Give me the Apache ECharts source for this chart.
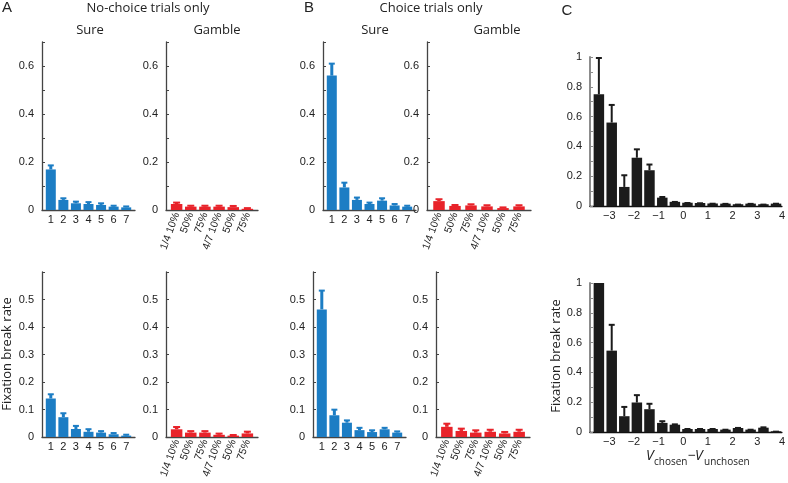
<!DOCTYPE html>
<html>
<head>
<meta charset="utf-8">
<script src="https://cdn.jsdelivr.net/npm/echarts@6/dist/echarts.min.js"></script>
<style>
html, body { margin: 0; padding: 0; background: #fff; }
#chart { width: 788px; height: 483px; }
</style>
</head>
<body>
<div id="chart"></div>
<script>
// x positions / labels
const sureX = [1, 2, 3, 4, 5, 6, 7]
const gambleX = [1, 2, 3, 4, 5, 6]
const gambleLabels = ['1/4 10%', '50%', '75%', '4/7 10%', '50%', '75%']
const cBins = [-3.42, -2.9, -2.39, -1.88, -1.37, -0.85, -0.34, 0.17, 0.68, 1.19, 1.71, 2.22, 2.73, 3.25, 3.76]
const cTicks = [-3, -2, -1, 0, 1, 2, 3, 4]

// A: no-choice trials, top row (mean, upper error)
const aTopSure = [0.169, 0.042, 0.028, 0.025, 0.021, 0.014, 0.011]
const aTopSureErr = [0.19, 0.053, 0.039, 0.037, 0.032, 0.022, 0.019]
const aTopGamble = [0.025, 0.014, 0.014, 0.014, 0.012, 0.005]
const aTopGambleErr = [0.035, 0.022, 0.022, 0.022, 0.021, 0.012]
// A: bottom row
const aBotSure = [0.14, 0.072, 0.029, 0.019, 0.016, 0.01, 0.005]
const aBotSureErr = [0.159, 0.09, 0.044, 0.032, 0.025, 0.018, 0.012]
const aBotGamble = [0.028, 0.016, 0.016, 0.008, 0.005, 0.013]
const aBotGambleErr = [0.04, 0.025, 0.025, 0.016, 0.011, 0.023]

// B: choice trials, top row
const bTopSure = [0.56, 0.094, 0.042, 0.025, 0.039, 0.019, 0.014]
const bTopSureErr = [0.614, 0.118, 0.056, 0.035, 0.053, 0.029, 0.022]
const bTopGamble = [0.037, 0.017, 0.019, 0.015, 0.008, 0.015]
const bTopGambleErr = [0.049, 0.025, 0.028, 0.024, 0.015, 0.024]
// B: bottom row
const bBotSure = [0.464, 0.079, 0.052, 0.025, 0.018, 0.028, 0.016]
const bBotSureErr = [0.536, 0.103, 0.064, 0.037, 0.028, 0.037, 0.024]
const bBotGamble = [0.037, 0.022, 0.016, 0.019, 0.013, 0.019]
const bBotGambleErr = [0.052, 0.034, 0.028, 0.03, 0.022, 0.03]

// C: by value difference
const cTop = [0.75, 0.56, 0.128, 0.324, 0.24, 0.056, 0.028, 0.022, 0.02, 0.017, 0.016, 0.012, 0.016, 0.012, 0.016]
const cTopErr = [1.0, 0.685, 0.213, 0.387, 0.285, 0.067, 0.034, 0.027, 0.025, 0.022, 0.021, 0.016, 0.021, 0.016, 0.022]
const cBot = [1.0, 0.546, 0.106, 0.198, 0.153, 0.061, 0.049, 0.02, 0.02, 0.02, 0.016, 0.027, 0.016, 0.029, 0.005]
const cBotErr = [1.0, 0.726, 0.175, 0.254, 0.196, 0.079, 0.058, 0.027, 0.027, 0.027, 0.022, 0.034, 0.022, 0.038, 0.009]

const BLUE = '#1c7dc4'
const RED = '#e8232a'
const BLACK = '#1b1b1b'
const LABEL_FONT = 'Liberation Sans'
const TITLE_FONT = 'Open Sans'

const grids = []
const xAxes = []
const yAxes = []
const series = []

// error bar: stem from bar top to error, plus a cap
const errRender = (color, stemW, capW) => (params, api) => {
  const x = api.value(0)
  const p0 = api.coord([x, api.value(1)])
  const p1 = api.coord([x, api.value(2)])
  return {
    type: 'group',
    children: [
      { type: 'line', shape: { x1: p0[0], y1: p0[1], x2: p1[0], y2: p1[1] + 1 }, style: { stroke: color, lineWidth: stemW } },
      { type: 'line', shape: { x1: p1[0] - capW / 2, y1: p1[1] + 1, x2: p1[0] + capW / 2, y2: p1[1] + 1 }, style: { stroke: color, lineWidth: 2 } }
    ]
  }
}

const addPanel = (p) => {
  const i = grids.length
  grids.push({ left: p.left, top: p.top, width: p.width, height: p.height })
  xAxes.push({
    gridIndex: i,
    type: 'value',
    min: p.xMin,
    max: p.xMax,
    splitLine: { show: false },
    axisTick: { show: false },
    axisLine: { onZero: false, lineStyle: { color: p.xLineColor || '#444', width: 1.3 } },
    axisLabel: {
      customValues: p.xLabelValues,
      formatter: p.xFormatter,
      rotate: p.rotate || 0,
      margin: p.rotate ? 3 : 4,
      fontFamily: LABEL_FONT,
      fontSize: p.rotate ? 10.5 : 11,
      color: '#222'
    }
  })
  yAxes.push({
    gridIndex: i,
    type: 'value',
    min: 0,
    max: p.yMax,
    interval: 0.1,
    splitLine: { show: false },
    axisTick: { inside: true, length: 3, lineStyle: { color: p.yLineColor || '#444' } },
    axisLine: { show: true, onZero: false, lineStyle: { color: p.yLineColor || '#444', width: p.yLineWidth || 1.3 } },
    axisLabel: {
      customValues: p.yLabelValues,
      formatter: (v) => String(Math.round(v * 10) / 10),
      margin: 8,
      fontFamily: LABEL_FONT,
      fontSize: 11,
      color: '#222'
    }
  })
  series.push({
    type: 'bar',
    xAxisIndex: i,
    yAxisIndex: i,
    barWidth: p.barWidth,
    itemStyle: { color: p.color },
    data: p.x.map((v, k) => [v, p.vals[k]]),
    silent: true
  })
  series.push({
    type: 'custom',
    xAxisIndex: i,
    yAxisIndex: i,
    renderItem: errRender(p.color, p.stemW, p.capW),
    data: p.x.map((v, k) => [v, p.vals[k], p.errs[k]]),
    silent: true,
    z: 3
  })
}

const topLabels = [0, 0.2, 0.4, 0.6]
const botLabels = [0, 0.1, 0.2, 0.3, 0.4, 0.5]
const sureCfg = { x: sureX, xMin: 0.3, xMax: 7.7, xLabelValues: sureX, xFormatter: (v) => String(v), color: BLUE, barWidth: 10, stemW: 3, capW: 6 }
const gambleCfg = { x: gambleX, xMin: 0.25, xMax: 6.75, xLabelValues: gambleX, xFormatter: (v) => gambleLabels[v - 1], rotate: 70, color: RED, barWidth: 11.5, stemW: 3.5, capW: 7 }
const cCfg = {
  x: cBins, xMin: -3.78, xMax: 4, xLabelValues: cTicks,
  xFormatter: (v) => (v < 0 ? '\u2212' + Math.abs(v) : String(v)),
  color: BLACK, barWidth: 10.5, stemW: 2, capW: 6,
  yMax: 1, yLabelValues: [0, 0.2, 0.4, 0.6, 0.8, 1], yLineColor: '#8c8c8c', yLineWidth: 2, xLineColor: '#111'
}

// top row
addPanel({ ...sureCfg, left: 42, top: 42, width: 93, height: 168, yMax: 0.7, yLabelValues: topLabels, vals: aTopSure, errs: aTopSureErr })
addPanel({ ...gambleCfg, left: 166, top: 42, width: 92, height: 168, yMax: 0.7, yLabelValues: topLabels, vals: aTopGamble, errs: aTopGambleErr })
addPanel({ ...sureCfg, left: 323, top: 42, width: 93, height: 168, yMax: 0.7, yLabelValues: topLabels, vals: bTopSure, errs: bTopSureErr })
addPanel({ ...gambleCfg, left: 427, top: 42, width: 104, height: 168, yMax: 0.7, yLabelValues: topLabels, vals: bTopGamble, errs: bTopGambleErr })
addPanel({ ...cCfg, left: 590, top: 57, width: 193, height: 149, vals: cTop, errs: cTopErr })

// bottom row
addPanel({ ...sureCfg, left: 42, top: 272, width: 93, height: 165, yMax: 0.6, yLabelValues: botLabels, vals: aBotSure, errs: aBotSureErr })
addPanel({ ...gambleCfg, left: 166, top: 272, width: 92, height: 165, yMax: 0.6, yLabelValues: botLabels, vals: aBotGamble, errs: aBotGambleErr })
addPanel({ ...sureCfg, left: 313, top: 272, width: 93, height: 165, yMax: 0.6, yLabelValues: botLabels, vals: bBotSure, errs: bBotSureErr })
addPanel({ ...gambleCfg, left: 436, top: 272, width: 94, height: 165, yMax: 0.6, yLabelValues: botLabels, vals: bBotGamble, errs: bBotGambleErr })
addPanel({ ...cCfg, left: 590, top: 283, width: 193, height: 149, vals: cBot, errs: cBotErr })

const txt = (x, y, text, size, font, extra) => ({
  type: 'text', x, y, silent: true,
  style: Object.assign({ text, fontSize: size, fontFamily: font, fill: '#222', align: 'center', verticalAlign: 'middle' }, extra || {})
})

const graphics = [
  txt(7, 8, 'A', 15, LABEL_FONT),
  txt(309, 8, 'B', 15, LABEL_FONT),
  txt(567, 11, 'C', 15, LABEL_FONT),
  txt(148, 8, 'No-choice trials only', 13, TITLE_FONT),
  txt(431, 8, 'Choice trials only', 13, TITLE_FONT),
  txt(90, 30, 'Sure', 13, TITLE_FONT),
  txt(217, 30, 'Gamble', 13, TITLE_FONT),
  txt(375, 30, 'Sure', 13, TITLE_FONT),
  txt(497, 30, 'Gamble', 13, TITLE_FONT),
  Object.assign(txt(7, 354, 'Fixation break rate', 13, TITLE_FONT), { rotation: Math.PI / 2 }),
  Object.assign(txt(556, 356, 'Fixation break rate', 13, TITLE_FONT), { rotation: Math.PI / 2 }),
  // V_chosen - V_unchosen
  txt(646, 463, 'V', 14, TITLE_FONT, { align: 'left', verticalAlign: 'bottom', fontStyle: 'italic' }),
  txt(654, 467, 'chosen', 10, TITLE_FONT, { align: 'left', verticalAlign: 'bottom' }),
  txt(688, 463, '\u2212', 14, TITLE_FONT, { align: 'left', verticalAlign: 'bottom' }),
  txt(695, 463, 'V', 14, TITLE_FONT, { align: 'left', verticalAlign: 'bottom', fontStyle: 'italic' }),
  txt(704, 467, 'unchosen', 10, TITLE_FONT, { align: 'left', verticalAlign: 'bottom' })
]

const chart = echarts.init(document.getElementById('chart'))
chart.setOption({
  backgroundColor: '#fff',
  animation: false,
  grid: grids,
  xAxis: xAxes,
  yAxis: yAxes,
  series: series,
  graphic: graphics
})
</script>
</body>
</html>
